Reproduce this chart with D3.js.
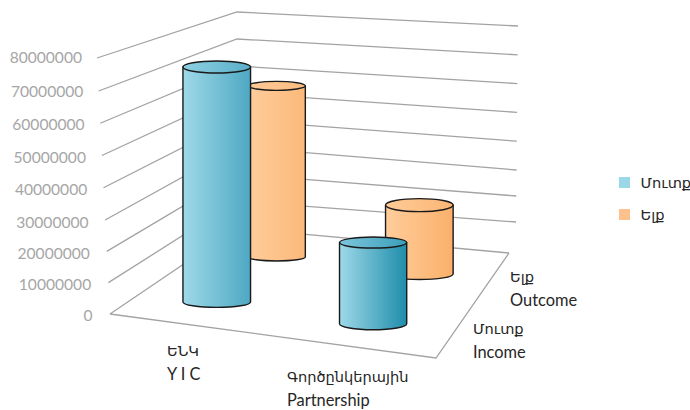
<!DOCTYPE html>
<html>
<head>
<meta charset="utf-8">
<script src="https://cdn.jsdelivr.net/npm/d3@7"></script>
<style>
  html, body { margin: 0; padding: 0; background: #fff; }
  text { font-family: Lato, "Noto Sans", "DejaVu Sans", sans-serif; }
  .tick-label { fill: #a6a6a6; font-size: 15.6px; }
  .label-am { fill: #262626; font-size: 14.6px; }
  .label-en { fill: #262626; font-size: 16.4px; }
</style>
</head>
<body>
<div id="chart"></div>
<script>
// Chart data
const categories = ["ԵՆԿ", "Գործընկերային"];
const categoriesEn = ["Y I C", "Partnership"];
const seriesNames = ["Մուտք", "Ելք"];
const seriesNamesEn = ["Income", "Outcome"];
const incomeValues = [75500000, 25500000];
const outcomeValues = [59800000, 23500000];
const tickValues = [0, 10000000, 20000000, 30000000, 40000000, 50000000, 60000000, 70000000, 80000000];

// Chart params
const svgWidth = 690;
const svgHeight = 410;
const maxValue = 80000000;

// floor corners of the 3d box, front left / front right / back right / back left
const floorFL = [110, 314], floorFR = [436, 358], floorBR = [509, 253], floorBL = [237, 228];

const svg = d3.select("#chart").append("svg")
  .attr("width", svgWidth)
  .attr("height", svgHeight)
  .style("display", "block");

// where each gridline ends on the left edge, back corner and right edge
const leftX = d3.scaleLinear().domain([0, maxValue]).range([110, 97]);
const leftY = d3.scaleLinear().domain([0, 30000000, 70000000, maxValue]).range([314, 220, 91, 58]);
const backX = d3.scaleLinear().domain([0, maxValue]).range([237, 237]);
const backY = d3.scaleLinear().domain([0, maxValue]).range([228, 12]);
const rightX = d3.scaleLinear().domain([0, 10000000, maxValue]).range([509, 516, 518]);
const rightY = d3.scaleLinear().domain([0, 10000000, 30000000, maxValue]).range([253, 222, 170, 26]);

// category runs along the front edge, series runs into the depth
const uBand = d3.scaleBand().domain(categories).range([-0.003, 1.009]);
const vBand = d3.scaleBand().domain(seriesNames).range([0, 1]);
const uSkew = d3.scaleLinear().domain([0, 1]).range([-0.015, 0.005]);
const vSkew = d3.scaleLinear().domain([0.25, 0.75]).range([0, -0.02]);

function lerp(a, b, t) { return a + (b - a) * t; }

// bilinear position on the floor
function floor(u, v) {
  const fx = lerp(floorFL[0], floorFR[0], u), fy = lerp(floorFL[1], floorFR[1], u);
  const bx = lerp(floorBL[0], floorBR[0], u), by = lerp(floorBL[1], floorBR[1], u);
  return [lerp(fx, bx, v), lerp(fy, by, v)];
}

// pixels per unit of value, changes with depth
function pxPerValue(u, v) {
  const front = lerp(32, 33.5, u), back = lerp(27, 28.4, u);
  return lerp(front, back, v) / 10000000;
}

const defs = svg.append("defs");

// gridlines
const gridColor = "#a3a3a3";
const lineGen = d3.line();
svg.append("g").selectAll("path")
  .data(tickValues)
  .enter()
  .append("path")
  .attr("d", d => lineGen([[leftX(d), leftY(d)], [backX(d), backY(d)], [rightX(d), rightY(d)]]))
  .attr("fill", "none")
  .attr("stroke", gridColor)
  .attr("stroke-width", 1.3);

// floor front and right edge
svg.append("path")
  .attr("d", lineGen([floorFL, floorFR, floorBR]))
  .attr("fill", "none")
  .attr("stroke", gridColor)
  .attr("stroke-width", 1.3);

// value labels
const labelX = d3.scaleLinear().domain([0, maxValue]).range([92.5, 82]);
const labelY = d3.scaleLinear().domain([0, 10000000, 30000000, 70000000, maxValue]).range([321, 290, 228, 97, 63]);
svg.append("g").selectAll("text")
  .data(tickValues)
  .enter()
  .append("text")
  .classed("tick-label", true)
  .attr("x", d => labelX(d))
  .attr("y", d => labelY(d))
  .attr("text-anchor", "end")
  .text(d => d);

// cylinders: back row first so the front row covers it
const cylinders = [];
[[1, outcomeValues], [0, incomeValues]].forEach(function(row) {
  row[1].forEach(function(value, i) {
    cylinders.push({ series: row[0], cat: i, value: value });
  });
});

// ellipse radii and gradient stops by cylinder, series then category
const radiusX = [[33.8, 33.6], [28.7, 33.8]];
const radiusTop = [[6, 5.5], [4.5, 6.5]];
const radiusBase = [[5.5, 6], [4, 5.5]];
const sideStops = [
  [["#9ed9e8", "#4ea8c3"], ["#9ed9e8", "#1f8dab"]],
  [["#ffcd9b", "#fcb97b"], ["#ffcd9b", "#fbb06a"]]
];
const topStops = [
  [["#8fd0e2", "#58aec8"], ["#7cc5da", "#3c9fba"]],
  [["#ffcb98", "#fcbc80"], ["#ffcb98", "#fbb675"]]
];

function addGradient(id, stops) {
  const g = defs.append("linearGradient").attr("id", id);
  g.append("stop").attr("offset", "0%").attr("stop-color", stops[0]);
  g.append("stop").attr("offset", "100%").attr("stop-color", stops[1]);
}

const cylinderGroup = svg.append("g");
cylinders.forEach(function(d) {
  const u = uBand(categories[d.cat]) + uBand.bandwidth() / 2;
  const v = vBand(seriesNames[d.series]) + vBand.bandwidth() / 2;
  const base = floor(u + uSkew(v), v + vSkew(u));
  const cx = base[0];
  const baseY = base[1];
  const topY = baseY - d.value * pxPerValue(u, v);
  const rx = radiusX[d.series][d.cat];
  const ryTop = radiusTop[d.series][d.cat];
  const ryBase = radiusBase[d.series][d.cat];
  const sideId = `side-${d.series}-${d.cat}`;
  const topId = `top-${d.series}-${d.cat}`;
  addGradient(sideId, sideStops[d.series][d.cat]);
  addGradient(topId, topStops[d.series][d.cat]);

  cylinderGroup.append("path")
    .attr("d", `M${cx - rx},${topY} L${cx - rx},${baseY} A${rx},${ryBase} 0 0 0 ${cx + rx},${baseY} L${cx + rx},${topY} Z`)
    .attr("fill", `url(#${sideId})`)
    .attr("stroke", "#1a1a1a")
    .attr("stroke-width", 1.4)
    .attr("stroke-linejoin", "round");
  cylinderGroup.append("ellipse")
    .attr("cx", cx)
    .attr("cy", topY)
    .attr("rx", rx)
    .attr("ry", ryTop)
    .attr("fill", `url(#${topId})`)
    .attr("stroke", "#1a1a1a")
    .attr("stroke-width", 1.4);
});

// two line labels, armenian on top and english below
function twoLineLabel(x, y, gap, first, second) {
  const g = svg.append("g");
  g.append("text").classed("label-am", true).attr("x", x).attr("y", y).text(first);
  g.append("text").classed("label-en", true).attr("x", x).attr("y", y + gap).text(second);
}

twoLineLabel(167, 356, 24, categories[0], categoriesEn[0]);
twoLineLabel(287, 382, 23.5, categories[1], categoriesEn[1]);
twoLineLabel(473, 334, 23.5, seriesNames[0], seriesNamesEn[0]);
twoLineLabel(510, 282, 23.5, seriesNames[1], seriesNamesEn[1]);

// legend
const legendColors = ["#9ad7e7", "#fdc18e"];
const legendY = d3.scalePoint().domain(seriesNames).range([177, 209]);
const legend = svg.append("g").selectAll("g")
  .data(seriesNames)
  .enter()
  .append("g");
legend.append("rect")
  .attr("x", 619)
  .attr("y", d => legendY(d))
  .attr("width", 11)
  .attr("height", 11)
  .attr("fill", (d, i) => legendColors[i]);
legend.append("text")
  .classed("label-am", true)
  .attr("x", 640.5)
  .attr("y", d => legendY(d) + 10.5)
  .text(d => d);
</script>
</body>
</html>
